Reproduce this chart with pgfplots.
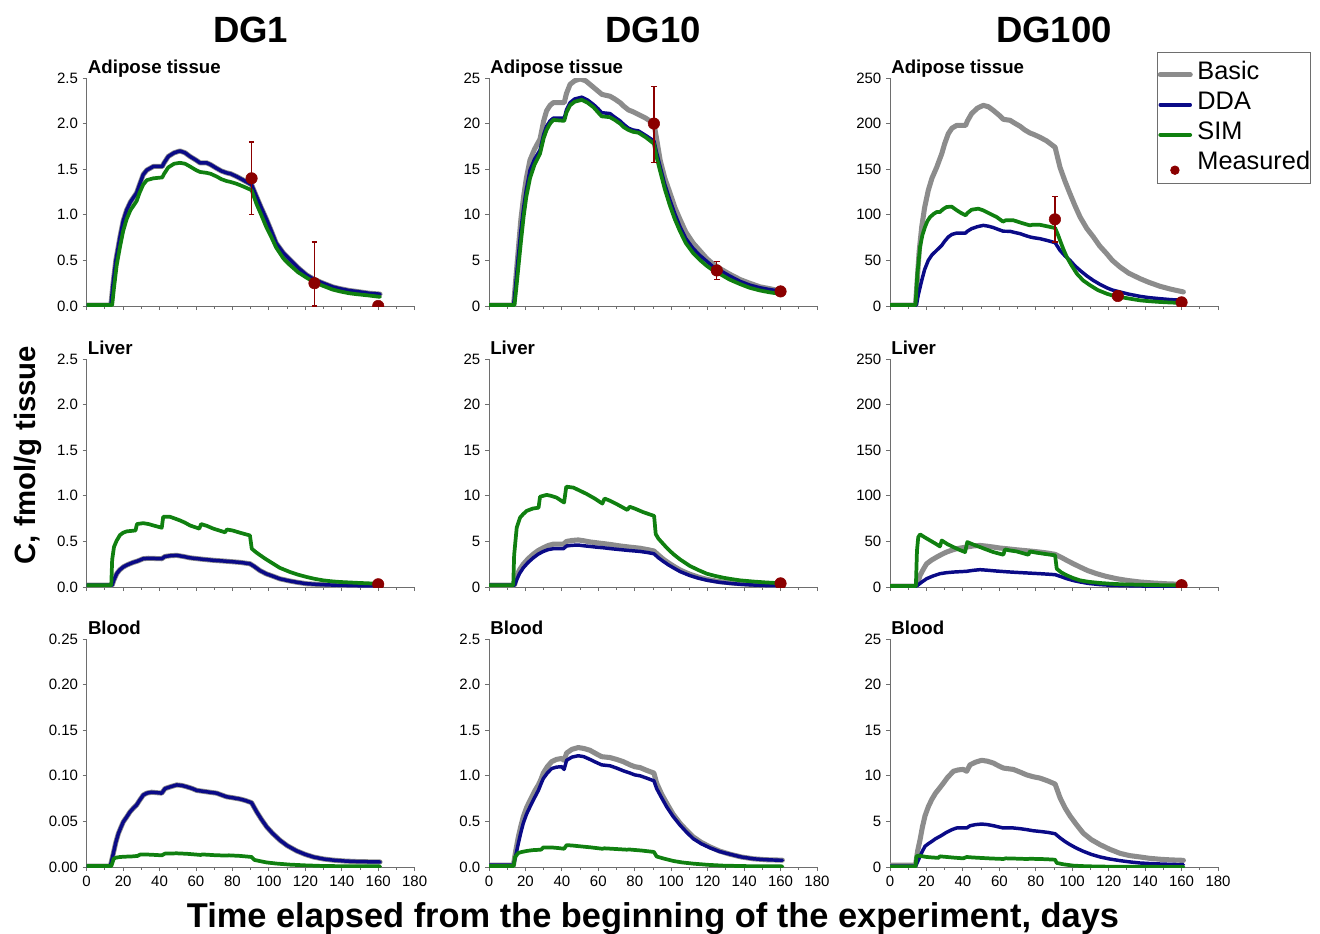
\documentclass[border=0pt]{standalone}
\usepackage{fontspec}
\setmainfont{Liberation Sans}
\usepackage{pgfplots}
\pgfplotsset{compat=1.18}

\definecolor{cBasic}{RGB}{140,140,140}
\definecolor{cDDA}{RGB}{10,10,135}
\definecolor{cSIM}{RGB}{16,128,16}
\definecolor{cMeas}{RGB}{139,0,0}
\definecolor{cAxis}{RGB}{110,110,110}

\pgfplotsset{
  panel/.style={
    scale only axis, width=246pt, height=171pt,
    xmin=0, xmax=180, xtick={0,20,...,180}, minor x tick num=1, ymin=0,
    axis x line*=bottom, axis y line*=left,
    axis line style={-, draw=cAxis, line width=0.75pt},
    tick align=outside, major tick length=3pt, minor tick length=2.2pt,
    tick style={draw=cAxis, line width=0.75pt},
    tick label style={font=\fontsize{11.25}{12}\selectfont, text=black},
    /pgf/number format/assume math mode=true,
    scaled y ticks=false, clip=true, clip mode=individual, clip marker paths=true,
  },
  notx/.style={xticklabels={}},
  one/.style={yticklabel style={/pgf/number format/fixed, /pgf/number format/fixed zerofill, /pgf/number format/precision=1}},
  two/.style={yticklabel style={/pgf/number format/fixed, /pgf/number format/fixed zerofill, /pgf/number format/precision=2}},
  basic/.style={color=cBasic, line width=3.8pt, line join=round, line cap=round},
  dda/.style={color=cDDA, line width=2.6pt, line join=round, line cap=round},
  sim/.style={color=cSIM, line width=2.8pt, line join=round, line cap=round},
  meas/.style={only marks, mark=*, mark size=4.3pt, color=cMeas,
    /pgfplots/error bars/y dir=both, /pgfplots/error bars/y explicit,
    /pgfplots/error bars/error bar style={line width=1pt, color=cMeas},
    /pgfplots/error bars/error mark options/.add={}{,mark size=2.1pt,line width=1pt}},
}
\newcommand{\ptitle}[1]{\node[anchor=base west, xshift=0.8pt, yshift=3.5pt, inner sep=0pt, font=\bfseries\fontsize{14}{16}\selectfont] at (rel axis cs:0,1) {#1};}
\newcommand{\ctitle}[1]{\node[anchor=base, yshift=27pt, inner sep=0pt, font=\bfseries\fontsize{27.4}{30}\selectfont] at (rel axis cs:0.5,1) {#1};}

\begin{document}
\begin{tikzpicture}
\useasboundingbox (0pt,0pt) rectangle (990pt,-700.5pt);

% ---------- DG1 adipose
\begin{axis}[panel, notx, one, at={(65pt,-229.5pt)}, anchor=south west, ymax=2.5, ytick={0,0.5,1,1.5,2,2.5}]
\addplot[basic] coordinates {(0,0.01)(13.3,0.01)(14.5,0.25)(16,0.5)(18.3,0.76)(20,0.93)(21.9,1.05)(24,1.14)(27.4,1.24)(29,1.33)(31,1.44)(33,1.49)(36.6,1.53)(41.5,1.53)(42.5,1.57)(44.8,1.64)(48,1.68)(51.2,1.70)(54,1.68)(56.7,1.64)(60,1.60)(62.2,1.57)(65.8,1.57)(68,1.55)(71.3,1.51)(74,1.48)(76.8,1.46)(79,1.45)(82.3,1.42)(86,1.38)(90.5,1.33)(93.2,1.20)(96,1.07)(98.7,0.95)(101,0.84)(104,0.69)(108,0.58)(111.5,0.51)(116,0.42)(120.7,0.34)(125,0.29)(129.8,0.25)(135,0.21)(139,0.19)(144,0.17)(148,0.16)(155,0.14)(161,0.13)};
\addplot[dda] coordinates {(0,0.01)(13.3,0.01)(14.5,0.25)(16,0.5)(18.3,0.76)(20,0.93)(21.9,1.05)(24,1.14)(27.4,1.24)(29,1.33)(31,1.44)(33,1.49)(36.6,1.53)(41.5,1.53)(42.5,1.57)(44.8,1.64)(48,1.68)(51.2,1.70)(54,1.68)(56.7,1.64)(60,1.60)(62.2,1.57)(65.8,1.57)(68,1.55)(71.3,1.51)(74,1.48)(76.8,1.46)(79,1.45)(82.3,1.42)(86,1.38)(90.5,1.33)(93.2,1.20)(96,1.07)(98.7,0.95)(101,0.84)(104,0.69)(108,0.58)(111.5,0.51)(116,0.42)(120.7,0.34)(125,0.29)(129.8,0.25)(135,0.21)(139,0.19)(144,0.17)(148,0.16)(155,0.14)(161,0.13)};
\addplot[sim] coordinates {(0,0.01)(14,0.01)(15,0.2)(16.5,0.45)(18.3,0.65)(20,0.82)(21.9,0.95)(24,1.05)(27.4,1.15)(29,1.24)(31,1.33)(33,1.38)(36.6,1.40)(41.5,1.41)(42.5,1.45)(44.8,1.52)(48,1.56)(51.2,1.57)(54,1.56)(56.7,1.53)(60,1.49)(62.2,1.47)(65.8,1.46)(68,1.45)(71.3,1.42)(74,1.39)(76.8,1.37)(79,1.36)(82.3,1.34)(86,1.31)(90.5,1.27)(93.2,1.12)(96,0.99)(98.7,0.86)(101,0.77)(104,0.64)(108,0.52)(111.5,0.45)(116,0.37)(120.7,0.31)(125,0.26)(129.8,0.22)(135,0.18)(139,0.16)(144,0.14)(148,0.13)(155,0.115)(161,0.10)};
\addplot[meas] coordinates {(90.5,1.40) +- (0,0.40) (125,0.25) += (0,0.45) -= (0,0.25) (160,0)};
\ptitle{Adipose tissue}
\ctitle{DG1}
\end{axis}

% ---------- DG10 adipose
\begin{axis}[panel, notx, at={(366.75pt,-229.5pt)}, anchor=south west, ymax=25, ytick={0,5,10,15,20,25}]
\addplot[basic] coordinates {(0,0.1)(13.5,0.1)(14.5,2.5)(16,6)(17.5,9.5)(19,12)(20.5,14)(22.5,16.0)(25,17.2)(28,18.3)(30,20.3)(31.6,21.4)(33.5,22.0)(35.3,22.3)(41.3,22.3)(42.5,23.3)(44.5,24.3)(47,24.7)(50,24.9)(53,24.7)(55.4,24.3)(59,23.7)(62,23.2)(66.4,23.0)(69,22.7)(71.9,22.3)(74,21.9)(76.5,21.5)(79,21.3)(82,21.0)(86,20.6)(90.5,20.0)(92,18.3)(93.9,16.0)(96.5,14.0)(99.3,12.4)(102,10.8)(104.8,9.5)(108,8.1)(112,6.9)(116,6.0)(119.5,5.2)(123,4.6)(126.8,4.1)(132,3.5)(137.8,2.9)(143,2.5)(148.7,2.1)(154,1.9)(161,1.6)};
\addplot[dda] coordinates {(0,0.1)(13.5,0.1)(14.5,2)(16,5.3)(17.5,8.3)(19,10.8)(20.5,12.8)(22.5,14.9)(25,16.1)(28,17.1)(30,18.8)(31.6,19.7)(33.5,20.3)(35.3,20.6)(41.3,20.6)(42.5,21.5)(44.5,22.3)(47,22.7)(50.9,22.9)(54,22.6)(57.3,22.1)(60,21.6)(61.8,21.2)(66.4,21.1)(69,20.7)(71.9,20.3)(74,19.9)(76.5,19.5)(79,19.3)(82,19.2)(86,18.7)(90.5,18.1)(92,16.8)(93.9,15.3)(96.5,13.3)(99.3,11.6)(102,10.1)(104.8,8.7)(108,7.4)(112,6.3)(116,5.5)(119.5,4.9)(123,4.3)(126.8,3.9)(132,3.3)(137.8,2.7)(143,2.3)(148.7,2.0)(154,1.8)(161,1.6)};
\addplot[sim] coordinates {(0,0.1)(14,0.1)(15,2)(16.5,5)(17.5,7)(19,9.8)(20.5,12)(22.5,14.0)(25,15.5)(28,16.7)(30,18.4)(31.6,19.3)(33.5,20.0)(35.3,20.4)(41.3,20.3)(42.5,21.2)(44.5,22.0)(47,22.4)(50.9,22.6)(54,22.3)(57.3,21.8)(60,21.2)(61.8,20.8)(66.4,20.7)(69,20.4)(71.9,20.0)(74,19.6)(76.5,19.3)(79,19.1)(82,19.0)(86,18.5)(90.5,17.8)(92,16.3)(93.9,14.8)(96.5,12.8)(99.3,11.0)(102,9.5)(104.8,8.2)(108,6.9)(112,5.8)(116,5.0)(119.5,4.4)(123,3.9)(126.8,3.5)(132,2.9)(137.8,2.4)(143,2.0)(148.7,1.7)(154,1.5)(161,1.3)};
\addplot[meas] coordinates {(90.5,20.0) += (0,4.1) -= (0,4.3) (125,3.9) +- (0,1.0) (160,1.6) +- (0,0.2)};
\ptitle{Adipose tissue}
\ctitle{DG10}
\end{axis}

% ---------- DG100 adipose (with legend)
\begin{axis}[panel, notx, at={(667.5pt,-229.5pt)}, anchor=south west, ymax=250, ytick={0,50,100,150,200,250},
  legend image code/.code={\draw[#1] (0pt,-3pt) -- (22.5pt,-3pt);},
  legend style={at={(1.282,1.112)}, anchor=north east, draw=cAxis, line width=0.6pt, fill=white,
    font=\fontsize{19}{19}\selectfont, inner xsep=0pt, inner ysep=6.7pt, row sep=8.9pt, column sep=3.5pt,
    nodes={inner sep=0pt, text height=13.6pt, text depth=0pt}},
  legend cell align=left]
\addplot[basic] coordinates {(0,1)(14,1)(15,30)(16,60)(17.4,86.6)(19,108)(21,126.8)(23,140)(25.6,152)(28.4,167)(30,178)(32,189)(34,195)(36.6,198)(41.5,198)(42.5,203)(44.8,211)(48,217)(51.2,220)(54,218.5)(56.7,214.5)(60,209)(62.2,204.7)(65.9,203.6)(68,201)(71.4,197)(74,193)(76.8,189.7)(79,188)(82.3,185)(86,181)(90.6,174)(93.3,152)(96,137)(98.8,123)(101.5,110)(104.3,97.6)(108,85)(111.6,75.7)(115,66)(118.9,57.4)(122,50)(126.2,42.8)(131,36)(137.2,30)(142,26)(148.2,21.6)(154,18.5)(161,15.4)};
\addlegendentry{Basic}
\addplot[dda] coordinates {(0,1)(14.5,1)(15.5,12)(17.4,28)(19,40)(21,50)(23,56)(25.6,61)(28.4,66.5)(30,71)(32,75.7)(34,78.5)(36.6,80)(41.5,80)(42.5,82)(44.8,84.8)(48,87)(51.2,88.4)(54,87.5)(56.7,86)(60,83.5)(62.2,82)(65.9,81.9)(68,80.8)(71.4,79.3)(74,77.5)(76.8,75.7)(79,74.8)(82.3,73.8)(86,72)(90.6,69.4)(93.3,61)(96,55)(98.8,50)(101.5,44)(104.3,39)(108,33)(111.6,28)(115,24)(118.9,20)(122,17.5)(126.2,15.4)(131,13)(137.2,10.6)(142,9.2)(148.2,8)(154,7)(161,6.2)};
\addlegendentry{DDA}
\addplot[sim] coordinates {(0,1)(14,1)(15,35)(16.5,65)(17.8,78)(19.2,86.6)(20.5,93)(22,97.6)(24,101)(25.6,103)(27.4,103)(29,106)(31,108.5)(33.8,109)(36.6,105)(39,102)(41.5,99.4)(42.5,102)(44.8,105.6)(48.5,106.7)(51,105)(53,103)(56,100)(58.5,97.6)(62,92.5)(63.5,94)(67.7,94)(72.3,91)(76.8,88.4)(78,89)(82.3,89)(86,87.5)(90.6,85.5)(92,79)(93.3,72)(95,63)(97,53.7)(99.5,45)(102.5,35.5)(106,28)(109.8,22.7)(114,17.5)(118.9,13.5)(122,11.5)(126.2,9.9)(131,8.2)(137.2,6.2)(142,5.3)(148.2,4.4)(154,3.8)(161,3.3)};
\addlegendentry{SIM}
\addplot[forget plot, meas] coordinates {(90.5,95) +- (0,25) (125,11) (160,4)};
\addlegendimage{legend image code/.code={\fill[cMeas] (11pt,-7pt) circle (3.2pt);}}
\addlegendentry{Measured}
\ptitle{Adipose tissue}
\ctitle{DG100}
\end{axis}

% ---------- DG1 liver
\begin{axis}[panel, notx, one, at={(65pt,-440.25pt)}, anchor=south west, ymax=2.5, ytick={0,0.5,1,1.5,2,2.5}]
\addplot[basic] coordinates {(0,0.02)(14,0.02)(14.8,0.07)(16.5,0.146)(18,0.185)(20.1,0.22)(22.5,0.245)(25.6,0.27)(28,0.285)(31,0.31)(34,0.315)(41.2,0.31)(43,0.335)(46,0.343)(49.4,0.347)(53,0.335)(56.7,0.32)(61,0.31)(65.8,0.30)(70,0.292)(75,0.285)(80,0.277)(84.2,0.27)(89.6,0.255)(92,0.225)(95.1,0.18)(98.5,0.145)(102.4,0.117)(106,0.09)(111.5,0.066)(116,0.05)(120.7,0.036)(130,0.025)(139,0.018)(150,0.013)(161,0.01)};
\addplot[dda] coordinates {(0,0.02)(14,0.02)(14.8,0.07)(16.5,0.146)(18,0.185)(20.1,0.22)(22.5,0.245)(25.6,0.27)(28,0.285)(31,0.31)(34,0.315)(41.2,0.31)(43,0.335)(46,0.343)(49.4,0.347)(53,0.335)(56.7,0.32)(61,0.31)(65.8,0.30)(70,0.292)(75,0.285)(80,0.277)(84.2,0.27)(89.6,0.255)(92,0.225)(95.1,0.18)(98.5,0.145)(102.4,0.117)(106,0.09)(111.5,0.066)(116,0.05)(120.7,0.036)(130,0.025)(139,0.018)(150,0.013)(161,0.01)};
\addplot[sim] coordinates {(0,0.02)(13.5,0.02)(14,0.3)(15,0.44)(16.5,0.51)(18.3,0.57)(20,0.595)(22,0.61)(26.8,0.62)(27.6,0.69)(31,0.70)(34,0.69)(36.6,0.675)(41.2,0.65)(42,0.77)(45.7,0.77)(48.5,0.75)(51.2,0.73)(54,0.705)(56.7,0.675)(61.8,0.64)(62.8,0.69)(66,0.67)(69.5,0.64)(75.9,0.60)(77,0.63)(80,0.62)(84.2,0.595)(89.6,0.565)(90.6,0.42)(93,0.38)(95.1,0.35)(98,0.31)(102.4,0.255)(106,0.21)(111.5,0.165)(116,0.135)(120.7,0.11)(125,0.09)(129.8,0.073)(134,0.063)(139,0.055)(149,0.045)(161,0.035)};
\addplot[meas] coordinates {(160,0.03)};
\ptitle{Liver}
\end{axis}

% ---------- DG10 liver
\begin{axis}[panel, notx, at={(366.75pt,-440.25pt)}, anchor=south west, ymax=25, ytick={0,5,10,15,20,25}]
\addplot[basic] coordinates {(0,0.2)(14,0.2)(15.2,1.2)(16.8,1.9)(18.8,2.5)(21.5,3.1)(24.3,3.6)(27,4.0)(29.8,4.3)(32.5,4.55)(35.3,4.7)(40.8,4.7)(42.6,5.0)(45.5,5.1)(49,5.16)(52,5.07)(55.4,4.94)(59,4.85)(62.8,4.76)(67,4.65)(71.9,4.5)(77,4.38)(82.9,4.25)(87,4.1)(90.5,3.95)(93,3.5)(95.7,3.04)(98.5,2.65)(101.2,2.3)(105,1.85)(110.3,1.39)(115,1.08)(119.5,0.84)(126,0.6)(132,0.47)(137.8,0.37)(145,0.27)(152,0.2)(161,0.15)};
\addplot[dda] coordinates {(0,0.2)(14,0.2)(15.2,0.8)(16.8,1.5)(18.8,2.1)(21.5,2.7)(24.3,3.2)(27,3.6)(29.8,3.9)(32.5,4.1)(35.3,4.2)(40.8,4.2)(42.6,4.5)(45.5,4.57)(49,4.6)(52,4.52)(55.4,4.45)(59,4.37)(62.8,4.3)(67,4.2)(71.9,4.1)(77,4.0)(82.9,3.9)(87,3.78)(90.5,3.65)(93,3.2)(95.7,2.8)(98.5,2.42)(101.2,2.1)(105,1.68)(110.3,1.25)(115,0.96)(119.5,0.75)(126,0.53)(132,0.4)(137.8,0.3)(145,0.22)(152,0.16)(161,0.12)};
\addplot[sim] coordinates {(0,0.2)(13.3,0.2)(13.8,3.5)(15.2,6.5)(17,7.6)(18.8,8.0)(20.7,8.35)(24,8.6)(27.2,8.7)(28,9.9)(31.6,10.1)(34,10.0)(37.1,9.8)(41.2,9.26)(42.4,11.0)(46.3,10.9)(50,10.55)(53.6,10.2)(58,9.7)(62.2,9.15)(63.4,9.7)(66.5,9.45)(70,9.1)(75.9,8.45)(77.2,8.8)(80,8.6)(84.7,8.2)(90.6,7.8)(91.5,5.8)(93,5.3)(95.7,4.7)(98,4.2)(101.2,3.6)(105,3.0)(110.3,2.3)(115,1.85)(119.5,1.46)(124,1.22)(128.6,1.02)(133,0.87)(137.8,0.73)(145,0.6)(152,0.5)(161,0.4)};
\addplot[meas] coordinates {(160,0.4)};
\ptitle{Liver}
\end{axis}

% ---------- DG100 liver
\begin{axis}[panel, notx, at={(667.5pt,-440.25pt)}, anchor=south west, ymax=250, ytick={0,50,100,150,200,250}]
\addplot[basic] coordinates {(0,1)(14.5,1)(15.5,6)(16.5,12.8)(18.3,19.5)(20.1,25.5)(22.8,29.5)(25.6,32.8)(28.4,35.8)(31,38.3)(33.8,40.3)(36.6,42)(42,43.8)(45.7,45)(49.4,45.6)(53,44.8)(56.7,43.8)(60,42.8)(64,42)(68.5,41)(73.2,40.1)(78,39.2)(82.3,38.3)(86.5,37.2)(90.6,35.8)(94,32.5)(97,29.2)(100.6,25.5)(104.3,21.9)(108.5,18)(113.4,14.6)(118.5,11.7)(124.4,9.1)(130.5,7.1)(137.2,5.5)(145,4.3)(152,3.5)(161,2.9)};
\addplot[dda] coordinates {(0,1)(14.5,1)(15.5,2.5)(17.5,5.5)(20.1,9.1)(23.5,12)(27.4,14.6)(31,15.7)(34.8,16.4)(42,17.2)(45.7,18.3)(49.4,19)(53.5,18.4)(58.5,17.5)(64,16.7)(69.5,16)(76,15.3)(82.3,14.6)(86.5,14.1)(90.6,13.5)(94,11.3)(97,9.1)(100.6,7.1)(104.3,5.5)(109,3.9)(115.3,2.6)(122,1.8)(130,1.4)(137.2,1.1)(150,0.85)(161,0.7)};
\addplot[sim] coordinates {(0,1)(14.2,1)(14.8,40)(15.5,54.7)(16.5,57.7)(19,54.5)(22,51)(25,47.5)(27.4,44.5)(28.4,51)(31.5,47)(34.8,43.8)(38,40.8)(41.2,38.3)(42.4,49.3)(46,46.3)(49.4,43.8)(53,41)(56.7,38.3)(62.2,35.4)(63.1,41.2)(66,40)(69.5,39)(75.9,35.4)(76.8,39)(80,37.8)(84.2,36.5)(90.6,34.7)(91.5,20)(94,16)(97,12.8)(100.5,9.8)(104.3,7.3)(109,5.7)(115.3,4.4)(121,3.6)(128,2.9)(140,2.3)(150,2.0)(161,1.8)};
\addplot[meas] coordinates {(160,2)};
\ptitle{Liver}
\end{axis}

% ---------- DG1 blood
\begin{axis}[panel, two, at={(65pt,-650.25pt)}, anchor=south west, ymax=0.25, ytick={0,0.05,0.1,0.15,0.2,0.25}]
\addplot[basic] coordinates {(0,0.001)(13,0.001)(14.6,0.0147)(16,0.027)(17.4,0.0367)(18.8,0.0435)(20.1,0.0495)(22,0.055)(23.8,0.0605)(25.6,0.0645)(27.4,0.068)(29,0.073)(31.1,0.079)(33,0.081)(35.7,0.082)(41.2,0.081)(43,0.086)(46,0.088)(49.4,0.090)(52,0.0895)(54.9,0.088)(58,0.086)(60.4,0.084)(64,0.083)(67.5,0.082)(71.3,0.081)(74,0.079)(76.8,0.077)(80,0.076)(84.2,0.0745)(87,0.073)(90.5,0.0705)(93.3,0.0605)(96,0.052)(98.8,0.044)(102,0.037)(106.1,0.0293)(110,0.0235)(115.3,0.0176)(120,0.0138)(124.4,0.011)(130,0.0088)(135.4,0.0075)(142,0.0065)(148,0.006)(155,0.0057)(161,0.0055)};
\addplot[dda] coordinates {(0,0.001)(13,0.001)(14.6,0.0147)(16,0.027)(17.4,0.0367)(18.8,0.0435)(20.1,0.0495)(22,0.055)(23.8,0.0605)(25.6,0.0645)(27.4,0.068)(29,0.073)(31.1,0.079)(33,0.081)(35.7,0.082)(41.2,0.081)(43,0.086)(46,0.088)(49.4,0.090)(52,0.0895)(54.9,0.088)(58,0.086)(60.4,0.084)(64,0.083)(67.5,0.082)(71.3,0.081)(74,0.079)(76.8,0.077)(80,0.076)(84.2,0.0745)(87,0.073)(90.5,0.0705)(93.3,0.0605)(96,0.052)(98.8,0.044)(102,0.037)(106.1,0.0293)(110,0.0235)(115.3,0.0176)(120,0.0138)(124.4,0.011)(130,0.0088)(135.4,0.0075)(142,0.0065)(148,0.006)(155,0.0057)(161,0.0055)};
\addplot[sim] coordinates {(0,0.001)(13.5,0.001)(14.2,0.005)(14.8,0.009)(16,0.0102)(18.3,0.011)(22,0.0114)(25.6,0.0117)(28,0.0122)(29.3,0.0136)(33,0.0137)(38,0.0132)(41.2,0.0128)(43,0.0147)(49.4,0.015)(55,0.0145)(60.4,0.0136)(62.5,0.0132)(63.5,0.0138)(70,0.013)(76.8,0.0125)(78,0.0128)(84,0.0122)(90.5,0.011)(92,0.0078)(95,0.0065)(98.8,0.005)(104,0.0038)(111.6,0.0026)(120,0.0018)(130,0.0011)(145,0.0008)(161,0.0007)};
\ptitle{Blood}
\end{axis}

% ---------- DG10 blood
\begin{axis}[panel, one, at={(366.75pt,-650.25pt)}, anchor=south west, ymax=2.5, ytick={0,0.5,1,1.5,2,2.5}]
\addplot[basic] coordinates {(0,0.02)(13.4,0.02)(14.6,0.17)(16.1,0.33)(17.5,0.45)(18.8,0.55)(20.6,0.65)(22.5,0.73)(25,0.83)(27.1,0.90)(28.5,0.96)(29.8,1.03)(32,1.10)(34.4,1.155)(37,1.18)(39.9,1.19)(41.2,1.17)(42.6,1.25)(45.5,1.29)(49,1.31)(52,1.30)(55.4,1.28)(58.5,1.245)(61.8,1.21)(66.4,1.20)(70,1.18)(73.7,1.155)(77.4,1.12)(80,1.10)(82.9,1.09)(86.5,1.06)(90.5,1.03)(92,0.92)(94.7,0.8)(97.5,0.70)(101,0.58)(104.8,0.48)(108.5,0.40)(112.1,0.33)(116.5,0.27)(121.3,0.22)(126.5,0.175)(132.3,0.14)(138.5,0.11)(145.1,0.09)(152,0.08)(161,0.075)};
\addplot[dda] coordinates {(0,0.02)(13.4,0.02)(14.6,0.12)(16.1,0.26)(17.5,0.38)(18.8,0.48)(20.6,0.58)(22.5,0.66)(25,0.76)(27.1,0.84)(28.5,0.91)(29.8,0.97)(32,1.03)(34.4,1.08)(37,1.095)(39.9,1.10)(41.2,1.07)(42.6,1.17)(45.5,1.205)(49,1.22)(52,1.21)(55.4,1.18)(58.5,1.15)(61.8,1.12)(66.4,1.11)(70,1.085)(73.7,1.055)(77.4,1.03)(80,1.01)(82.9,1.0)(86.5,0.975)(90.5,0.945)(92,0.86)(94.7,0.76)(97.5,0.66)(101,0.555)(104.8,0.46)(108.5,0.38)(112.1,0.31)(116.5,0.255)(121.3,0.21)(126.5,0.17)(132.3,0.14)(138.5,0.11)(145.1,0.09)(152,0.08)(161,0.073)};
\addplot[sim] coordinates {(0,0.01)(13.5,0.01)(14.3,0.11)(16.1,0.154)(18,0.165)(20.7,0.176)(24,0.185)(28.5,0.19)(29.8,0.215)(34,0.215)(38,0.208)(41.2,0.20)(42.6,0.24)(46,0.235)(49.9,0.227)(56,0.215)(62.2,0.20)(63.3,0.205)(70,0.197)(75.6,0.19)(77,0.192)(84,0.18)(90.5,0.165)(92,0.115)(96,0.092)(101.2,0.066)(106,0.05)(112.1,0.037)(120,0.024)(128.6,0.015)(140,0.01)(150,0.008)(161,0.007)};
\ptitle{Blood}
\end{axis}

% ---------- DG100 blood
\begin{axis}[panel, at={(667.5pt,-650.25pt)}, anchor=south west, ymax=25, ytick={0,5,10,15,20,25}]
\addplot[basic] coordinates {(0,0.2)(14,0.2)(15.2,1.8)(16.5,3.0)(17.8,4.4)(19.2,5.6)(21,6.6)(22.9,7.4)(25,8.1)(27.4,8.7)(29.3,9.2)(31.5,9.8)(34.8,10.5)(37.5,10.65)(40.2,10.7)(42.1,10.5)(43.9,11.2)(47,11.5)(50.3,11.7)(53.5,11.6)(56.7,11.4)(59.5,11.1)(62.2,10.85)(67.7,10.7)(71.5,10.4)(75,10.1)(78.5,9.9)(82.3,9.75)(86.5,9.45)(90.6,9.1)(93.3,7.6)(96,6.5)(98.8,5.6)(102.5,4.6)(106.1,3.7)(110.5,3.0)(115.3,2.45)(120.5,1.95)(126.2,1.5)(131.5,1.25)(137.2,1.1)(142.5,0.95)(148.2,0.85)(154,0.78)(161,0.73)};
\addplot[dda] coordinates {(0,0.1)(14,0.1)(15.2,0.6)(16.5,1.17)(17.8,1.75)(19.2,2.27)(21,2.55)(22.9,2.8)(25,3.1)(27.4,3.36)(29,3.55)(31,3.8)(34,4.1)(36.6,4.28)(42.1,4.28)(44,4.53)(47,4.65)(50.3,4.71)(53.5,4.65)(56.7,4.53)(59.5,4.4)(62.2,4.28)(67.7,4.28)(71.5,4.2)(75,4.1)(78.5,3.98)(82.3,3.9)(86.5,3.8)(90.6,3.65)(93.3,3.2)(96,2.8)(98.8,2.45)(102.5,2.05)(106.1,1.72)(110.5,1.38)(115.3,1.1)(120.5,0.88)(126.2,0.7)(131.5,0.56)(137.2,0.44)(142.5,0.38)(148.2,0.33)(154,0.29)(161,0.26)};
\addplot[sim] coordinates {(0,0.05)(14,0.05)(14.5,1.17)(15.5,1.24)(17,1.2)(20.1,1.1)(23,1.05)(26.5,1.0)(27.4,1.17)(30,1.12)(35,1.03)(40.2,0.95)(42.1,1.1)(45,1.05)(49.4,1.0)(55,0.94)(62.2,0.88)(63.5,0.95)(69,0.92)(75,0.88)(77,0.9)(82.3,0.88)(86,0.85)(90.6,0.8)(91.5,0.45)(95,0.3)(100.6,0.15)(108,0.08)(118.9,0.04)(135,0.02)(161,0.01)};
\ptitle{Blood}
\end{axis}

\node[rotate=90, anchor=base, inner sep=0pt, font=\bfseries\fontsize{22}{24}\selectfont] at (26.25pt,-341.25pt) {C, fmol/g tissue};
\node[anchor=base, inner sep=0pt, font=\bfseries\fontsize{25.8}{28}\selectfont] at (489.75pt,-695.25pt) {Time elapsed from the beginning of the experiment, days};
\end{tikzpicture}
\end{document}
